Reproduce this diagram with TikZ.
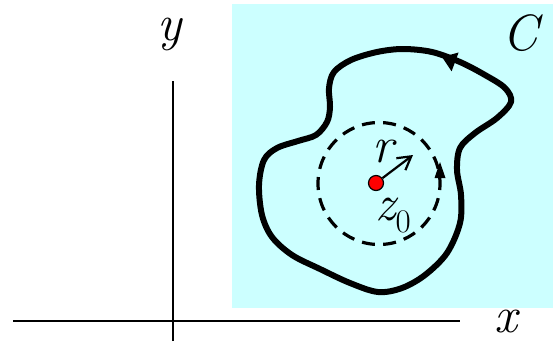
\documentclass[tikz,border=0pt]{standalone}
\usetikzlibrary{arrows.meta}
\definecolor{lightcyan}{HTML}{CCFFFF}
\begin{document}
\begin{tikzpicture}[x=1pt,y=-1pt,
  axis/.style={line width=2.2pt},
  contour/.style={line width=6pt, line join=round},
  dcircle/.style={line width=3.2pt, dash pattern=on 13pt off 8.29pt, dash phase=6.5pt},
  lbl/.style={font=\fontsize{51}{51}\selectfont\itshape, inner sep=0pt, anchor=base, text depth=0pt},
  rarrow/.style={line width=2.2pt, -{Straight Barb[length=13pt,width=15pt,line width=2.2pt]}},
  dot/.style={circle, fill=red, draw=black, line width=1.2pt, minimum size=15pt, inner sep=0pt}]
\useasboundingbox (0,0) rectangle (553,341);
\fill[lightcyan] (232,4) rectangle (553,308);
% axes
\coordinate (xa) at (13,321);
\coordinate (xb) at (460,321);
\coordinate (ya) at (173,341);
\coordinate (yb) at (173,81);
\draw[axis] (xa) -- (xb);
\draw[axis] (ya) -- (yb);
\node[lbl] (ylab) at (170,40) {y};
\node[lbl] (xlab) at (506,332) {x};
\node[lbl] (clab) at (520,50) {C};
% contour
\draw[contour] plot[smooth cycle, tension=0.55] coordinates {
 (403,49) (377,52) (351,60) (334,72) (329,88) (330,107) (327,122) (316,135)
 (298,141) (277,148) (264,160) (259,185) (262,215) (272,237) (292,255)
 (320,269) (350,283) (378,292) (402,288) (425,275) (447,253) (460,223)
 (461,195) (457,170) (460,148) (475,133) (497,118) (511,102) (505,88)
 (485,75) (460,62) (432,52)};
\fill (442,57) -- (458.6,52.5) -- (451.6,71.3) -- cycle;
% dashed circle
\coordinate (cc) at (379,183.5);
\draw[dcircle] (cc) circle (61);
\fill (440,162) -- (434.5,178) -- (445.5,178) -- cycle;
% radius arrow and point
\node[dot] (z0) at (376,183) {};
\coordinate (rtip) at (413,155);
\draw[rarrow] (z0) -- (rtip);
\node[lbl] (rlab) at (383,162) {r};
\node[lbl, anchor=base west] (zlab) at (375,220) {z\raisebox{-12pt}{\fontsize{33}{33}\selectfont\upshape 0}};
\end{tikzpicture}
\end{document}
